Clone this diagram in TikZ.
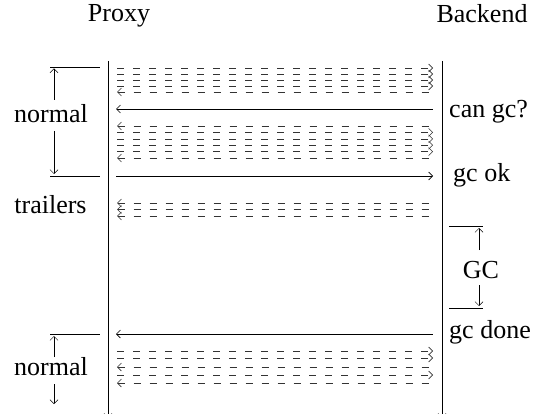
\documentclass[tikz,border=0pt]{standalone}
\usepackage{fontspec}
\setmainfont{Liberation Serif}
\usetikzlibrary{arrows.meta}
\begin{document}
\begin{tikzpicture}[x=1pt,y=-1pt,
  rtip/.style={-{Straight Barb[length=4pt,width=8pt]}},
  ltip/.style={{Straight Barb[length=4pt,width=8pt]}-},
  msg/.style={line width=0.55pt, black!80, dash pattern=on 7pt off 9pt},
  solidmsg/.style={line width=0.7pt},
  bar/.style={line width=0.7pt},
  dim/.style={line width=0.5pt},
  lbl/.style={font=\fontsize{26}{30}\selectfont, inner sep=0pt, anchor=base}]
\useasboundingbox (0,0) rectangle (535,414);
% headers
\node[lbl] (proxy) at (119,22) {Proxy};
\node[lbl] (backend) at (482,23) {Backend};
% timelines
\coordinate (pt) at (108,61); \coordinate (pb) at (108,418);
\coordinate (bt) at (442,61); \coordinate (bb) at (442,418);
\draw[rtip, line width=0.7pt] (pt) -- (pb);
\draw[rtip, line width=0.7pt] (bt) -- (bb);
% group 1 (normal)
\foreach \y in {68,74,80,86} \draw[msg,rtip] (117,\y) -- (433,\y);
\draw[msg,ltip] (117,92) -- (433,92);
% can gc?
\draw[solidmsg,ltip] (116,109) -- (433,109);
\node[lbl, anchor=base west] (cangc) at (449,118) {can gc?};
% group 2
\draw[msg,ltip] (117,126) -- (433,126);
\foreach \y in {132.4,138.8,145.2,151.6} \draw[msg,rtip] (117,\y) -- (433,\y);
\draw[msg,ltip] (117,158) -- (433,158);
% gc ok
\draw[solidmsg,rtip] (116,176) -- (433,176);
\node[lbl, anchor=base west] (gcok) at (453,182) {gc ok};
% trailers
\foreach \y in {203,209.5,216} \draw[msg,ltip] (117,\y) -- (433,\y);
% gc done
\draw[solidmsg,ltip] (116,334) -- (433,334);
\node[lbl, anchor=base west] (gcdone) at (449,338.5) {gc done};
% group 4
\foreach \y in {351,358} \draw[msg,rtip] (117,\y) -- (433,\y);
\draw[msg,ltip] (117,367) -- (433,367);
\draw[msg,rtip] (117,375) -- (433,375);
\draw[msg,ltip] (117,383) -- (433,383);
% left brackets
\draw[bar] (50,67) -- (100,67);
\draw[bar] (50,176) -- (100,176);
\node[lbl] (normal1) at (51,122.5) {normal};
\draw[dim,rtip] (54,100) -- (54,68.5);
\draw[dim,rtip] (54,131) -- (54,174);
\node[lbl] (trailers) at (50.5,213) {trailers};
\draw[bar] (50,334) -- (100,334);
\node[lbl] (normal2) at (51,375) {normal};
\draw[dim,rtip] (54,357) -- (54,336);
\draw[dim,rtip] (54,384) -- (54,404);
% GC bracket
\draw[bar] (449,226) -- (483,226);
\draw[bar] (449,308) -- (483,308);
\node[lbl] (gc) at (481,278) {GC};
\draw[dim,rtip] (479,250) -- (479,228);
\draw[dim,rtip] (479,285) -- (479,306);
\end{tikzpicture}
\end{document}
